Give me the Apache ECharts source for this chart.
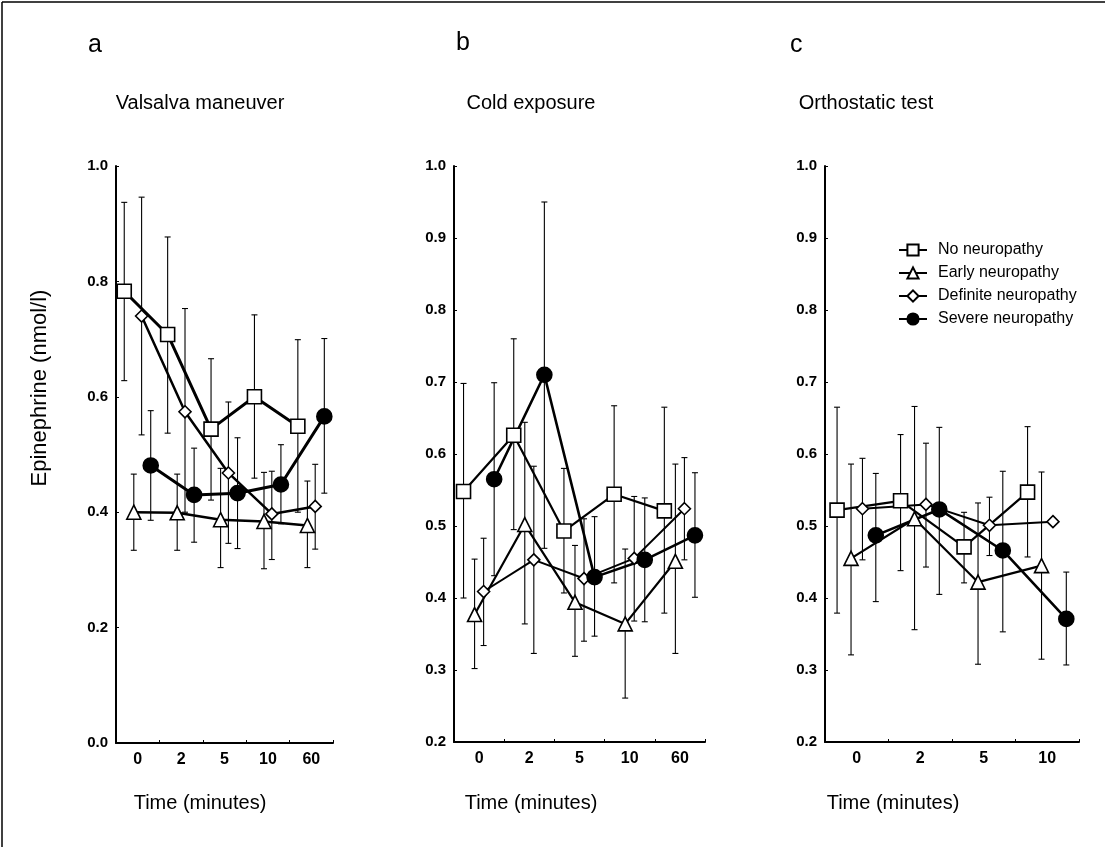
<!DOCTYPE html>
<html>
<head>
<meta charset="utf-8">
<script src="https://cdn.jsdelivr.net/npm/echarts@6/dist/echarts.min.js"></script>
<style>html,body{margin:0;padding:0;background:#fff}#c{width:1105px;height:847px}</style>
</head>
<body>
<div id="c"></div>
<script>
// ---------- data ----------
const seriesNames = ['No neuropathy', 'Early neuropathy', 'Definite neuropathy', 'Severe neuropathy'];
const panelLetters = ['a', 'b', 'c'];
const panelTitles = ['Valsalva maneuver', 'Cold exposure', 'Orthostatic test'];
const xAxisTitle = 'Time (minutes)';
const yAxisTitle = 'Epinephrine (nmol/l)';

const catsA = ['0', '2', '5', '10', '60'];
const catsB = ['0', '2', '5', '10', '60'];
const catsC = ['0', '2', '5', '10'];

// Panel a: Valsalva maneuver
const noA    = [0.783, 0.708, 0.544, 0.600, 0.549];
const earlyA = [0.400, 0.399, 0.387, 0.384, 0.377];
const defA   = [0.740, 0.574, 0.468, 0.397, 0.410];
const sevA   = [0.481, 0.430, 0.433, 0.448, 0.566];
const noAErr    = [[0.628, 0.937], [0.537, 0.877], [0.421, 0.666], [0.459, 0.742], [0.400, 0.699]];
const earlyAErr = [[0.334, 0.466], [0.334, 0.466], [0.304, 0.476], [0.302, 0.469], [0.304, 0.454]];
const defAErr   = [[0.534, 0.946], [0.400, 0.753], [0.346, 0.591], [0.318, 0.471], [0.336, 0.483]];
const sevAErr   = [[0.386, 0.576], [0.348, 0.511], [0.337, 0.529], [0.380, 0.517], [0.433, 0.701]];

// Panel b: Cold exposure
const noB    = [0.548, 0.626, 0.493, 0.544, 0.521];
const earlyB = [0.377, 0.502, 0.394, 0.364, 0.451];
const defB   = [0.409, 0.453, 0.427, 0.455, 0.524];
const sevB   = [0.565, 0.710, 0.429, 0.453, 0.487];
const noBErr    = [[0.400, 0.698], [0.495, 0.760], [0.407, 0.580], [0.421, 0.667], [0.379, 0.665]];
const earlyBErr = [[0.302, 0.454], [0.364, 0.644], [0.319, 0.473], [0.261, 0.468], [0.323, 0.586]];
const defBErr   = [[0.334, 0.483], [0.323, 0.583], [0.340, 0.510], [0.368, 0.541], [0.453, 0.595]];
const sevBErr   = [[0.431, 0.699], [0.469, 0.950], [0.347, 0.513], [0.367, 0.539], [0.401, 0.574]];

// Panel c: Orthostatic test
const noC    = [0.522, 0.535, 0.471, 0.547];
const earlyC = [0.455, 0.510, 0.422, 0.445];
const defC   = [0.524, 0.530, 0.501, 0.506];
const sevC   = [0.487, 0.523, 0.466, 0.371];
const noCErr    = [[0.379, 0.665], [0.438, 0.627], [0.421, 0.519], [0.457, 0.638]];
const earlyCErr = [[0.321, 0.586], [0.356, 0.666], [0.308, 0.532], [0.315, 0.575]];
const defCErr   = [[0.453, 0.594], [0.443, 0.615], [0.459, 0.540], null];
const sevCErr   = [[0.395, 0.573], [0.405, 0.637], [0.353, 0.576], [0.307, 0.436]];

const yTicksA = { min: 0.0, max: 1.0, interval: 0.2 };
const yTicksBC = { min: 0.2, max: 1.0, interval: 0.1 };

// ---------- layout / style ----------
const FONT = 'Liberation Sans, Arial, Helvetica, sans-serif';
const panels = [
  { cats: catsA, vals: [noA, earlyA, defA, sevA], errs: [noAErr, earlyAErr, defAErr, sevAErr], y: yTicksA,
    grid: { left: 116, top: 166, width: 217, height: 577 }, lw: [3, 2.5, 2.5, 3] },
  { cats: catsB, vals: [noB, earlyB, defB, sevB], errs: [noBErr, earlyBErr, defBErr, sevBErr], y: yTicksBC,
    grid: { left: 454, top: 166, width: 251, height: 576 }, lw: [2.2, 2.2, 2, 2.6] },
  { cats: catsC, vals: [noC, earlyC, defC, sevC], errs: [noCErr, earlyCErr, defCErr, sevCErr], y: yTicksBC,
    grid: { left: 825, top: 166, width: 254, height: 576 }, lw: [2.2, 2.2, 2, 2.6] }
];
const dodge = [-0.31, -0.09, 0.09, 0.3];
const symbols = ['rect', 'triangle', 'diamond', 'circle'];
const symSizes = [14, 14, 12, 15];
const fills = ['#fff', '#fff', '#fff', '#000'];

const grids = [], xAxes = [], yAxes = [], series = [];

function errRender(params, api) {
  const x = api.value(0), lo = api.value(1), hi = api.value(2);
  const a = api.coord([x, hi]), b = api.coord([x, lo]);
  const w = 3;
  const st = { stroke: '#000', lineWidth: 1.1 };
  return { type: 'group', children: [
    { type: 'line', shape: { x1: a[0], y1: a[1], x2: b[0], y2: b[1] }, style: st },
    { type: 'line', shape: { x1: a[0] - w, y1: a[1], x2: a[0] + w, y2: a[1] }, style: st },
    { type: 'line', shape: { x1: b[0] - w, y1: b[1], x2: b[0] + w, y2: b[1] }, style: st }
  ]};
}

panels.forEach((p, gi) => {
  grids.push(Object.assign({ containLabel: false }, p.grid));
  xAxes.push({
    type: 'category', gridIndex: gi, data: p.cats, boundaryGap: true,
    axisLine: { show: true, onZero: false, lineStyle: { color: '#000', width: 2 } },
    axisTick: { show: true, inside: true, length: 3, lineStyle: { color: '#000' } },
    axisLabel: { color: '#000', fontFamily: FONT, fontSize: 16, fontWeight: 'bold', margin: 9 },
    splitLine: { show: false }
  });
  xAxes.push({
    type: 'value', gridIndex: gi, min: -0.5, max: p.cats.length - 0.5, show: false,
    axisLine: { onZero: false }
  });
  yAxes.push({
    type: 'value', gridIndex: gi, min: p.y.min, max: p.y.max, interval: p.y.interval,
    axisLine: { show: true, onZero: false, lineStyle: { color: '#000', width: 2 } },
    axisTick: { show: true, inside: true, length: 3, lineStyle: { color: '#000' } },
    axisLabel: { color: '#000', fontFamily: FONT, fontSize: 15, fontWeight: 'bold', margin: 8,
      formatter: v => v.toFixed(1) },
    splitLine: { show: false }
  });
  p.vals.forEach((vals, si) => {
    const errData = [];
    p.errs[si].forEach((e, i) => { if (e) errData.push([i + dodge[si], e[0], e[1]]); });
    series.push({
      type: 'custom', name: 'err' + gi + si, xAxisIndex: gi * 2 + 1, yAxisIndex: gi,
      renderItem: errRender, data: errData, z: 1, silent: true,
      encode: { x: 0, y: [1, 2] }
    });
  });
  p.vals.forEach((vals, si) => {
    series.push({
      type: 'line', name: seriesNames[si], xAxisIndex: gi * 2 + 1, yAxisIndex: gi,
      data: vals.map((v, i) => [i + dodge[si], v]),
      symbol: symbols[si], symbolSize: symSizes[si], showSymbol: true,
      lineStyle: { color: '#000', width: p.lw[si] },
      itemStyle: { color: fills[si], borderColor: '#000', borderWidth: 1.6 },
      z: 3, animation: false
    });
  });
});

const textStyle = (s, size, extra) => Object.assign({ text: s, fill: '#000', font: size + 'px ' + FONT }, extra || {});
const graphic = [
  { type: 'line', shape: { x1: 2, y1: 2, x2: 1105, y2: 2 }, style: { stroke: '#000', lineWidth: 1.5 } },
  { type: 'line', shape: { x1: 2, y1: 2, x2: 2, y2: 847 }, style: { stroke: '#000', lineWidth: 1.5 } },
  { type: 'text', left: 88, top: 33, style: textStyle('a', 25) },
  { type: 'text', left: 456, top: 31, style: textStyle('b', 25) },
  { type: 'text', left: 790, top: 33, style: textStyle('c', 25) },
  { type: 'text', x: 200, y: 103, style: textStyle(panelTitles[0], 20, { textAlign: 'center', textVerticalAlign: 'middle' }) },
  { type: 'text', x: 531, y: 103, style: textStyle(panelTitles[1], 20, { textAlign: 'center', textVerticalAlign: 'middle' }) },
  { type: 'text', x: 866, y: 103, style: textStyle(panelTitles[2], 20, { textAlign: 'center', textVerticalAlign: 'middle' }) },
  { type: 'text', x: 200, y: 803, style: textStyle(xAxisTitle, 20, { textAlign: 'center', textVerticalAlign: 'middle' }) },
  { type: 'text', x: 531, y: 803, style: textStyle(xAxisTitle, 20, { textAlign: 'center', textVerticalAlign: 'middle' }) },
  { type: 'text', x: 893, y: 803, style: textStyle(xAxisTitle, 20, { textAlign: 'center', textVerticalAlign: 'middle' }) },
  { type: 'text', x: 40, y: 388, rotation: Math.PI / 2,
    style: textStyle(yAxisTitle, 22, { textAlign: 'center', textVerticalAlign: 'middle' }) }
];

const chart = echarts.init(document.getElementById('c'), null, { renderer: 'canvas' });
chart.setOption({
  animation: false,
  backgroundColor: '#fff',
  grid: grids,
  xAxis: xAxes,
  yAxis: yAxes,
  legend: {
    data: seriesNames, orient: 'vertical', left: 893, top: 237,
    itemWidth: 28, itemHeight: 14, itemGap: 7,
    textStyle: { color: '#000', fontFamily: FONT, fontSize: 16, padding: [0, 0, 0, 6] }
  },
  graphic: graphic,
  series: series
});
</script>
</body>
</html>
